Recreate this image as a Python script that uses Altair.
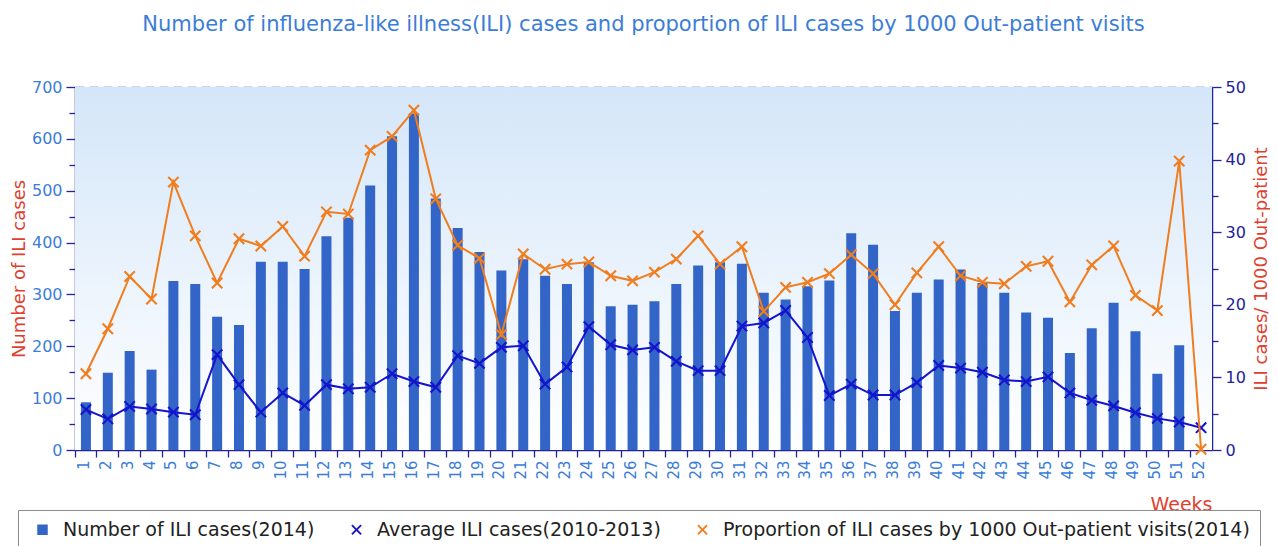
import altair as alt
import pandas as pd

weeks = list(range(1, 53))

ili_2014 = [92, 149, 191, 155, 326, 320, 257, 241, 363, 363,
            349, 412, 448, 510, 605, 649, 485, 428, 382, 346,
            368, 336, 320, 362, 277, 280, 287, 320, 356, 362,
            359, 303, 290, 316, 327, 418, 396, 268, 303, 329,
            348, 322, 303, 265, 255, 187, 235, 284, 229, 147,
            202, 0]

avg_2010_2013 = [78, 60, 84, 79, 73, 68, 184, 126, 73, 110,
                 86, 126, 118, 121, 147, 132, 121, 182, 167, 198,
                 201, 127, 160, 238, 203, 193, 198, 171, 153, 153,
                 239, 245, 269, 217, 105, 127, 106, 106, 130, 163,
                 158, 150, 135, 132, 141, 110, 96, 85, 72, 61,
                 54, 43]

proportion_2014 = [10.5, 16.7, 23.9, 20.8, 36.9, 29.5, 23.0, 29.1, 28.1, 30.8,
                   26.7, 32.8, 32.5, 41.3, 43.2, 46.8, 34.6, 28.2, 26.4, 15.9,
                   27.0, 24.9, 25.6, 25.9, 24.0, 23.3, 24.5, 26.3, 29.5, 25.6,
                   28.0, 19.1, 22.4, 23.1, 24.3, 26.9, 24.3, 20.0, 24.4, 28.0,
                   24.0, 23.1, 22.9, 25.3, 26.0, 20.4, 25.5, 28.1, 21.3, 19.2,
                   39.8, 0.1]

series_names = ["Number of ILI cases(2014)",
                "Average ILI cases(2010-2013)",
                "Proportion of ILI cases by 1000 Out-patient visits(2014)"]
series_colors = ["#3265c7", "#1414cc", "#f07d1e"]

left_ticks = list(range(0, 701, 50))
right_ticks = list(range(0, 51, 5))

title_text = ("Number of influenza-like illness(ILI) cases and proportion of "
              "ILI cases by 1000 Out-patient visits")

FONT = "DejaVu Sans"
RED = "#e0402f"
NAVY = "#22229a"
LABEL_BLUE = "#3b7dd8"

X_PATH = ("M-0.75,-1L0,-0.25L0.75,-1L1,-0.75L0.25,0L1,0.75L0.75,1L0,0.25"
          "L-0.75,1L-1,0.75L-0.25,0L-1,-0.75Z")

bar_df = pd.DataFrame({"week": weeks, "value": ili_2014, "series": series_names[0]})
avg_df = pd.DataFrame({"week": weeks, "value": avg_2010_2013, "series": series_names[1]})
prop_df = pd.DataFrame({"week": weeks, "value": proportion_2014, "series": series_names[2]})

color_scale = alt.Scale(domain=series_names, range=series_colors)
shape_scale = alt.Scale(domain=series_names, range=["square", X_PATH, X_PATH])

legend = alt.Legend(
    title=None, orient="none", legendX=-57, legendY=423, direction="horizontal",
    strokeColor="#8c8c8c", fillColor="white", padding=10,
    labelFont=FONT, labelFontSize=19, labelColor="#222222", labelOffset=11,
    symbolSize=110, symbolOffset=5, columnPadding=27, labelLimit=800,
)

x_enc = alt.X(
    "week:O", sort=weeks,
    scale=alt.Scale(paddingInner=0, paddingOuter=0),
    axis=alt.Axis(
        title="Weeks", titleColor=RED, titleFont=FONT, titleFontSize=19,
        titleFontWeight="normal", titleAnchor="end", titleY=45, titleBaseline="top",
        labelAngle=270, bandPosition=0, labelOffset=-2,
        labelFont=FONT, labelFontSize=15, labelColor=LABEL_BLUE, labelPadding=3,
        domainColor=NAVY, domainWidth=1.5, tickColor=NAVY, tickWidth=1.3, tickSize=7,
        grid=False,
    ),
)

cond100 = "datum.value % 100 === 0"
y_left = alt.Y(
    "value:Q",
    scale=alt.Scale(domain=[0, 700], nice=False, zero=True),
    axis=alt.Axis(
        title="Number of ILI cases", titleColor=RED, titleFont=FONT, titleFontSize=18,
        titleFontWeight="normal", titlePadding=3,
        values=left_ticks,
        labelExpr="datum.value % 100 === 0 ? datum.label : ''",
        labelFont=FONT, labelFontSize=16, labelColor=LABEL_BLUE, labelPadding=4,
        tickSize={"condition": {"test": cond100, "value": 9}, "value": 6},
        tickColor=NAVY, tickWidth=1.3, domainColor=NAVY, domainWidth=1.5,
        grid=True, gridColor="#4a4a98", gridDash=[9, 5], gridWidth=1.3,
        gridOpacity={"condition": {"test": "datum.value % 100 === 0 && datum.value > 0",
                                   "value": 1}, "value": 0},
    ),
)

y_right = alt.Y(
    "value:Q",
    scale=alt.Scale(domain=[0, 50], nice=False, zero=True),
    axis=alt.Axis(
        orient="right",
        title="ILI cases/ 1000 Out-patient", titleColor=RED, titleFont=FONT,
        titleFontSize=18, titleFontWeight="normal", titleAngle=270,
        titleBaseline="top", titlePadding=7,
        values=right_ticks,
        labelExpr="datum.value % 10 === 0 ? datum.label : ''",
        labelFont=FONT, labelFontSize=16, labelColor=NAVY, labelPadding=4,
        tickSize={"condition": {"test": "datum.value % 10 === 0", "value": 9}, "value": 6},
        tickColor=NAVY, tickWidth=1.3, domainColor=NAVY, domainWidth=1.5,
        grid=False,
    ),
)

gradient = alt.LinearGradient(
    gradient="linear", x1=0, x2=0, y1=0, y2=1,
    stops=[alt.GradientStop(offset=0, color="#d4e6f9"),
           alt.GradientStop(offset=1, color="#ffffff")],
)
background = alt.Chart(pd.DataFrame({"bg": [0]})).mark_rect(fill=gradient).encode(
    x=alt.value(0), x2=alt.value("width"), y=alt.value(0), y2=alt.value("height"),
)

bars = alt.Chart(bar_df).mark_bar(width=10).encode(
    x=x_enc, y=y_left,
    color=alt.Color("series:N", scale=color_scale, legend=legend),
)

avg_line = alt.Chart(avg_df).mark_line(color=series_colors[1], strokeWidth=2).encode(
    x=x_enc, y=y_left,
)
avg_pts = alt.Chart(avg_df).mark_point(filled=True, opacity=1, size=140).encode(
    x=x_enc, y=y_left,
    color=alt.Color("series:N", scale=color_scale, legend=legend),
    shape=alt.Shape("series:N", scale=shape_scale, legend=legend),
)

prop_line = alt.Chart(prop_df).mark_line(color=series_colors[2], strokeWidth=2).encode(
    x=x_enc, y=y_right,
)
prop_pts = alt.Chart(prop_df).mark_point(filled=True, opacity=1, size=140).encode(
    x=x_enc, y=y_right,
    color=alt.Color("series:N", scale=color_scale, legend=legend),
    shape=alt.Shape("series:N", scale=shape_scale, legend=legend),
)

left = alt.layer(bars, avg_line, avg_pts)
right = alt.layer(prop_line, prop_pts)

chart = alt.layer(background, left, right).resolve_scale(y="independent").properties(
    width=1137, height=363,
    autosize=alt.AutoSizeParams(type="none"),
    padding={"left": 67, "top": 79, "right": 58, "bottom": 96},
    title=alt.TitleParams(text=title_text, font=FONT, fontSize=21, fontWeight="normal",
                          color=LABEL_BLUE, anchor="middle", offset=44),
).configure_view(
    stroke="transparent",
).configure(background="white")

chart.save("out.html", embed_options={"renderer": "svg", "actions": False})
